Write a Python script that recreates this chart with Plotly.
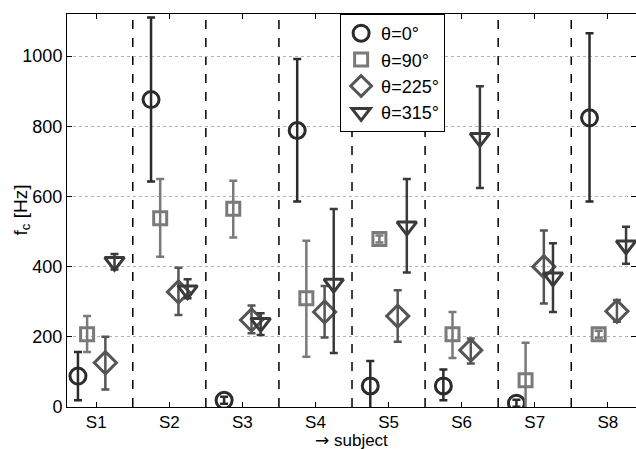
import plotly.graph_objects as go

subjects = ["S1", "S2", "S3", "S4", "S5", "S6", "S7", "S8"]
angles = ["θ=0°", "θ=90°", "θ=225°", "θ=315°"]
offsets = [-0.25, -0.125, 0.125, 0.25]

# values (Hz) and error half-widths (upper/lower) per angle
fc_0 = [88, 876, 19, 788, 60, 60, 11, 824]
up_0 = [69, 234, 10, 204, 71, 47, 10, 241]
lo_0 = [69, 233, 10, 202, 70, 41, 10, 238]

fc_90 = [207, 538, 565, 310, 479, 207, 76, 207]
up_90 = [52, 112, 80, 164, 10, 64, 107, 10]
lo_90 = [50, 110, 82, 167, 10, 67, 80, 10]

fc_225 = [126, 328, 248, 271, 259, 162, 400, 273]
up_225 = [74, 69, 41, 74, 74, 33, 103, 32]
lo_225 = [76, 66, 38, 73, 73, 38, 105, 30]

fc_315 = [414, 333, 240, 352, 515, 767, 370, 461]
up_315 = [22, 31, 27, 212, 135, 147, 97, 53]
lo_315 = [22, 23, 35, 198, 132, 143, 99, 53]

values = [fc_0, fc_90, fc_225, fc_315]
err_up = [up_0, up_90, up_225, up_315]
err_lo = [lo_0, lo_90, lo_225, lo_315]

symbols = ["circle-open", "square-open", "diamond-open", "triangle-down-open"]
colors = ["#2b2b2b", "#7a7a7a", "#555555", "#3a3a3a"]
sizes = [16, 13, 17, 17]

fig = go.Figure()
xs_base = list(range(1, len(subjects) + 1))
for i, name in enumerate(angles):
    fig.add_trace(go.Scatter(
        x=[x + offsets[i] for x in xs_base],
        y=values[i],
        mode="markers",
        name=name,
        marker=dict(symbol=symbols[i], size=sizes[i], color=colors[i],
                    line=dict(width=3, color=colors[i])),
        error_y=dict(type="data", symmetric=False, array=err_up[i],
                     arrayminus=err_lo[i], color=colors[i], thickness=2.5, width=4),
    ))

shapes = []
for k in range(1, len(subjects)):
    shapes.append(dict(type="line", xref="x", yref="paper", x0=k + 0.5, x1=k + 0.5,
                       y0=0, y1=1, line=dict(color="black", width=1.5, dash="dash"),
                       layer="below"))

fig.update_layout(
    width=636, height=449,
    margin=dict(l=67, r=0, t=14, b=42, autoexpand=False),
    paper_bgcolor="white", plot_bgcolor="white",
    font=dict(family="Liberation Sans, Arial, sans-serif", size=18, color="black"),
    shapes=shapes,
    showlegend=True,
    legend=dict(x=0.48, y=1, xanchor="left", yanchor="top",
                bgcolor="white", bordercolor="black", borderwidth=1,
                font=dict(size=18), tracegroupgap=0, itemwidth=30),
    xaxis=dict(range=[0.6, 8.386], tickvals=xs_base, ticktext=subjects,
               ticks="inside", ticklen=5, tickcolor="black", showgrid=False,
               showline=True, linecolor="black", linewidth=1, mirror="ticks",
               zeroline=False, automargin=False, tickfont=dict(size=17)),
    yaxis=dict(range=[0, 1120], tickvals=[0, 200, 400, 600, 800, 1000],
               ticks="inside", ticklen=5, tickcolor="black",
               showgrid=True, gridcolor="#b0b0b0", griddash="dot", gridwidth=1,
               showline=True, linecolor="black", linewidth=1, mirror="ticks",
               zeroline=False, automargin=False, tickfont=dict(size=18)),
    annotations=[
        dict(text="<span style='font-family:DejaVu Sans'>→</span> subject",
             xref="paper", yref="paper", x=0.5, y=0,
             yshift=-33, showarrow=False, xanchor="center", yanchor="middle",
             font=dict(size=17)),
        dict(text="f<sub>c</sub> [Hz]", xref="paper", yref="paper", x=0, y=0.5,
             xshift=-46, showarrow=False, textangle=-90, xanchor="center",
             yanchor="middle", font=dict(size=19)),
    ],
)

fig.write_html("out.html", config={"displayModeBar": False},
               post_script="document.body.style.margin='0';document.body.style.padding='0';")
